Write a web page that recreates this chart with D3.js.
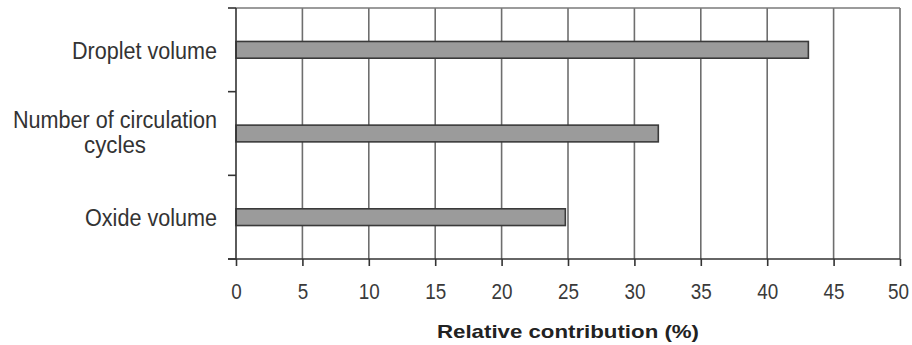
<!DOCTYPE html>
<html><head><meta charset="utf-8">
<script src="https://cdn.jsdelivr.net/npm/d3@7"></script>
<style>body{margin:0;background:#fff}</style>
</head><body><svg id="c" width="912" height="345"></svg>
<script>
const categories = ["Droplet volume", "Number of circulation cycles", "Oxide volume"];
const labelLines = [["Droplet volume"], ["Number of circulation", "cycles"], ["Oxide volume"]];
const values = [43.1, 31.8, 24.8];
const xTicks = [0,5,10,15,20,25,30,35,40,45,50];
const xTitle = "Relative contribution (%)";

const svg = d3.select("#c");
const m = {left:236, right:900, top:8, bottom:259};
const x = d3.scaleLinear().domain([0,50]).range([m.left, m.right]);
const y = d3.scaleBand().domain(categories).range([m.top, m.bottom]).padding(0);
const textCol = "#333";

// grid lines
svg.append("g").selectAll("line").data(xTicks.filter(d=>d>0)).join("line")
  .attr("x1", d=>x(d)).attr("x2", d=>x(d)).attr("y1", m.top).attr("y2", m.bottom)
  .attr("stroke", "#6e6e6e").attr("stroke-width", 1.6);
// top border
svg.append("line").attr("x1", m.left).attr("x2", m.right).attr("y1", m.top).attr("y2", m.top)
  .attr("stroke", "#7a7a7a").attr("stroke-width", 1.4);

// bars
const barH = y.bandwidth()*0.2;
svg.append("g").selectAll("rect").data(categories).join("rect")
  .attr("x", x(0)).attr("y", d=>y(d)+y.bandwidth()/2-barH/2)
  .attr("width", (d,i)=>x(values[i])-x(0)).attr("height", barH)
  .attr("fill", "#9b9b9b").attr("stroke", "#3a3a3a").attr("stroke-width", 1.6);

// x axis
const xa = svg.append("g").attr("transform", `translate(0,${m.bottom})`)
  .call(d3.axisBottom(x).tickValues(xTicks).tickSize(7).tickSizeOuter(0).tickFormat(d3.format("d")));
xa.select(".domain").remove();
xa.selectAll(".tick line").attr("stroke", "#333").attr("stroke-width", 1.6);
xa.selectAll(".tick text").attr("y", 40).attr("dy", 0).attr("font-family", "Liberation Sans, Arial, sans-serif")
  .attr("font-size", 22).attr("fill", "#3a3a3a")
  .attr("textLength", d=>String(d).length*10.5).attr("lengthAdjust", "spacingAndGlyphs");
xa.selectAll(".tick").filter(d=>d===50).select("text").attr("x", -2);
svg.append("line").attr("x1", 228).attr("x2", m.right).attr("y1", m.bottom).attr("y2", m.bottom)
  .attr("stroke", "#333").attr("stroke-width", 1.6);

// y axis
svg.append("line").attr("x1", m.left).attr("x2", m.left).attr("y1", m.top).attr("y2", m.bottom)
  .attr("stroke", "#333").attr("stroke-width", 1.6);
const bounds = categories.map(c=>y(c)).concat([m.bottom]);
svg.append("g").selectAll("line").data(bounds).join("line")
  .attr("x1", 228).attr("x2", m.left).attr("y1", d=>d).attr("y2", d=>d)
  .attr("stroke", "#333").attr("stroke-width", 1.6);

// category labels
const lw = {"Droplet volume":145, "Number of circulation":204, "cycles":62, "Oxide volume":132};
labelLines.forEach((lines,i)=>{
  const cy = y(categories[i]) + y.bandwidth()/2;
  const lh = 25;
  lines.forEach((t,j)=>{
    const base = cy + 9 + (j - (lines.length-1)/2)*lh - (lines.length>1?2:0);
    const tx = svg.append("text").attr("y", base)
      .attr("font-family", "Liberation Sans, Arial, sans-serif").attr("font-size", 23).attr("fill", textCol)
      .attr("textLength", lw[t]).attr("lengthAdjust", "spacingAndGlyphs").text(t);
    if (lines.length>1) tx.attr("x", 115).attr("text-anchor", "middle");
    else tx.attr("x", 217).attr("text-anchor", "end");
  });
});

// x title
svg.append("text").attr("x", 568).attr("y", 338).attr("text-anchor", "middle")
  .attr("font-family", "Liberation Sans, Arial, sans-serif").attr("font-weight", "bold")
  .attr("font-size", 19).attr("fill", "#222")
  .attr("textLength", 262).attr("lengthAdjust", "spacingAndGlyphs").text(xTitle);
</script></body></html>
